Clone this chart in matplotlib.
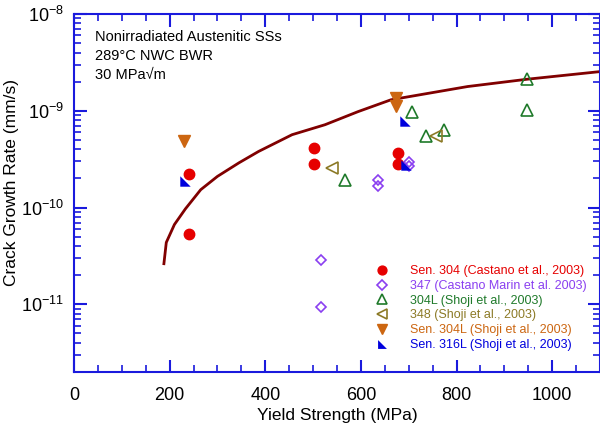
import numpy as np
import matplotlib
matplotlib.use("Agg")
import matplotlib.pyplot as plt
from matplotlib.ticker import MultipleLocator, LogLocator, FixedLocator, LogFormatterSciNotation, NullFormatter

plt.rcParams['font.family'] = ['Liberation Sans', 'DejaVu Sans']
plt.rcParams['mathtext.fontset'] = 'custom'
plt.rcParams['mathtext.rm'] = 'Liberation Sans'

# Datos
ys_304 = [241, 241, 502, 502, 677, 677]
cgr_304 = [2.24e-10, 5.3e-11, 4.16e-10, 2.82e-10, 3.66e-10, 2.82e-10]

ys_347 = [636, 636, 701, 701, 517, 517]
cgr_347 = [1.94e-10, 1.69e-10, 2.98e-10, 2.71e-10, 2.84e-11, 9.5e-12]

ys_304L = [567, 707, 736, 773, 948, 948]
cgr_304L = [1.94e-10, 9.7e-10, 5.43e-10, 6.26e-10, 2.12e-9, 1.02e-9]

ys_348 = [539, 757]
cgr_348 = [2.57e-10, 5.43e-10]

ys_s304L = [229, 674, 674]
cgr_s304L = [4.9e-10, 1.37e-9, 1.11e-9]

ys_s316L = [233, 693, 694]
cgr_s316L = [1.87e-10, 7.88e-10, 2.77e-10]

# Curva de disposición
curve_x = [188, 193, 210, 233, 265, 300, 345, 386, 456, 525, 594, 663, 823, 948, 1100]
curve_y = [2.63e-11, 4.36e-11, 6.68e-11, 9.7e-11, 1.53e-10, 2.1e-10, 2.9e-10, 3.8e-10,
           5.66e-10, 7.18e-10, 9.8e-10, 1.3e-9, 1.78e-9, 2.12e-9, 2.54e-9]

y_decades = [1e-11, 1e-10, 1e-9, 1e-8]

labels = ["Sen. 304 (Castano et al., 2003)",
          "347 (Castano Marin et al. 2003)",
          "304L (Shoji et al., 2003)",
          "348 (Shoji et al., 2003)",
          "Sen. 304L (Shoji et al., 2003)",
          "Sen. 316L (Shoji et al., 2003)"]

c_red = '#e60000'
c_purple = '#8a3ff0'
c_green = '#1f7a2a'
c_olive = '#8c7a26'
c_orange = '#cc6611'
c_blue = '#0000dd'
axis_blue = '#1a1add'

fig = plt.figure(figsize=(6, 4.32), dpi=100)
ax = fig.add_axes([74/600, 1 - 372/432, 526/600, (372 - 14)/432])

ax.plot(curve_x, curve_y, color='#800000', lw=2, zorder=2)

tri_marker = [(-1, 1), (-1, -1), (1, -1), (-1, 1)]

ax.plot(ys_304, cgr_304, 'o', ms=7.5, color=c_red, mec=c_red, ls='none', label=labels[0], zorder=3)
ax.plot(ys_347, cgr_347, 'D', ms=5.5, mfc='none', mec=c_purple, mew=1.2, ls='none', label=labels[1], zorder=3)
ax.plot(ys_304L, cgr_304L, '^', ms=8, mfc='none', mec=c_green, mew=1.2, ls='none', label=labels[2], zorder=3)
ax.plot(ys_348, cgr_348, '<', ms=8, mfc='none', mec=c_olive, mew=1.2, ls='none', label=labels[3], zorder=3)
ax.plot(ys_s304L, cgr_s304L, 'v', ms=8, color=c_orange, mec=c_orange, ls='none', label=labels[4], zorder=3)
ax.plot(ys_s316L, cgr_s316L, marker=tri_marker, ms=7.5, color=c_blue, mec=c_blue, mew=0,
        ls='none', label=labels[5], zorder=3)

ax.set_yscale('log')
ax.set_xlim(0, 1100)
ax.set_ylim(2e-12, 1e-8)

ax.xaxis.set_major_locator(MultipleLocator(200))
ax.xaxis.set_minor_locator(MultipleLocator(50))
ax.yaxis.set_major_locator(FixedLocator(y_decades))
ax.yaxis.set_major_formatter(LogFormatterSciNotation())
ax.yaxis.set_minor_locator(LogLocator(base=10, subs=np.arange(2, 10), numticks=10))
ax.yaxis.set_minor_formatter(NullFormatter())

for s in ax.spines.values():
    s.set_color(axis_blue)
    s.set_linewidth(1.5)
ax.tick_params(which='both', direction='in', top=True, right=True, color=axis_blue,
               labelsize=13)
ax.tick_params(axis='x', pad=11)
ax.tick_params(axis='y', pad=7)
ax.tick_params(which='major', length=9, width=1.5)
ax.tick_params(which='minor', length=5, width=1.2)

ax.set_xlabel('Yield Strength (MPa)', fontsize=12.5)
ax.set_ylabel('Crack Growth Rate (mm/s)', fontsize=12.5)
ax.xaxis.set_label_coords(0.5, -0.1)
ax.yaxis.set_label_coords(-0.105, 0.53)

ax.text(0.04, 0.955, 'Nonirradiated Austenitic SSs\n289°C NWC BWR\n30 MPa√m',
        transform=ax.transAxes, fontsize=10.5, va='top', ha='left', linespacing=1.45)

leg = ax.legend(loc='lower right', bbox_to_anchor=(0.985, 0.045), frameon=False, fontsize=9,
                handletextpad=1.5, labelspacing=0.22, borderaxespad=0, markerscale=0.85,
                handlelength=1.6)
for txt, col in zip(leg.get_texts(), [c_red, c_purple, c_green, c_olive, c_orange, c_blue]):
    txt.set_color(col)

fig.savefig('out.png', dpi=100)
